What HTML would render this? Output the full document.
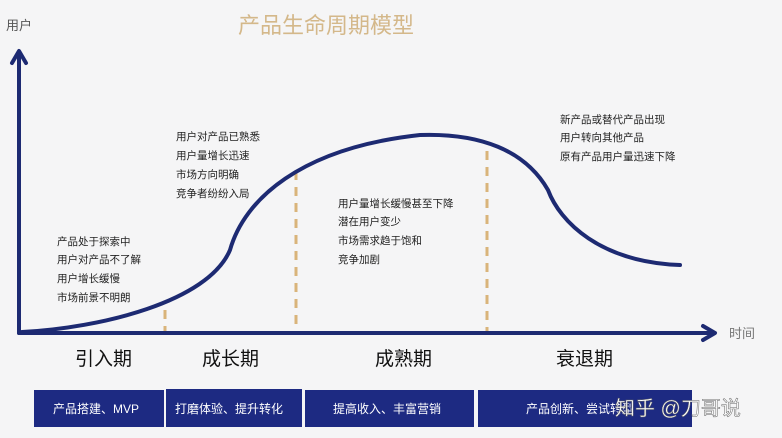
<!DOCTYPE html>
<html><head><meta charset="utf-8"><style>
html,body{margin:0;padding:0;background:#f5f5f6;}
svg{display:block;}
text{font-family:"Liberation Sans","Noto Sans CJK SC",sans-serif;}
</style></head><body>
<svg width="782" height="438" viewBox="0 0 782 438" xmlns="http://www.w3.org/2000/svg">
<rect width="782" height="438" fill="#f5f5f6"/>
<text x="238" y="33" font-size="22" fill="#d4b88a">产品生命周期模型</text>
<text x="6" y="30" font-size="13" fill="#555">用户</text>
<text x="729" y="338" font-size="13" fill="#777">时间</text>
<g stroke="#d9b47a" stroke-width="3" stroke-dasharray="9,7">
<line x1="165" y1="310" x2="165" y2="331"/>
<line x1="296" y1="171" x2="296" y2="331"/>
<line x1="487" y1="151" x2="487" y2="331"/>
</g>
<g stroke="#1d2a72" stroke-width="4" fill="none" stroke-linecap="round" stroke-linejoin="round">
<line x1="19" y1="333" x2="19" y2="52"/>
<polyline points="12,63 19,51 26,63"/>
<line x1="19" y1="333" x2="714" y2="333"/>
<polyline points="703,326 715,333 703,340"/>
<path d="M22,332 C100,328 208,302 230,250 C244,200 300,148 420,135 C480,133 525,150 548,190 C560,222 600,262 680,265"/>
</g>
<g font-size="10.5" fill="#222">
<text x="57" y="245">产品处于探索中</text>
<text x="57" y="263">用户对产品不了解</text>
<text x="57" y="282">用户增长缓慢</text>
<text x="57" y="301">市场前景不明朗</text>
<text x="176" y="140">用户对产品已熟悉</text>
<text x="176" y="159">用户量增长迅速</text>
<text x="176" y="178">市场方向明确</text>
<text x="176" y="197">竞争者纷纷入局</text>
<text x="338" y="207">用户量增长缓慢甚至下降</text>
<text x="338" y="225">潜在用户变少</text>
<text x="338" y="244">市场需求趋于饱和</text>
<text x="338" y="263">竞争加剧</text>
<text x="560" y="123">新产品或替代产品出现</text>
<text x="560" y="141">用户转向其他产品</text>
<text x="560" y="160">原有产品用户量迅速下降</text>
</g>
<g font-size="19" fill="#111">
<text x="75" y="365">引入期</text>
<text x="202" y="365">成长期</text>
<text x="375" y="365">成熟期</text>
<text x="556" y="365">衰退期</text>
</g>
<g fill="#1d2a82">
<rect x="34" y="390" width="130" height="37"/>
<rect x="166" y="389" width="136" height="38"/>
<rect x="305" y="390" width="169" height="37"/>
<rect x="478" y="390" width="214" height="37"/>
</g>
<g font-size="12" fill="#fff">
<text x="53" y="413">产品搭建、MVP</text>
<text x="175" y="413">打磨体验、提升转化</text>
<text x="333" y="413">提高收入、丰富营销</text>
<text x="526" y="413">产品创新、尝试转型</text>
</g>
<text x="615" y="415" font-size="20" fill="#fff" stroke="#666" stroke-width="0.5">知乎 @刀哥说</text>
</svg>
</body></html>
